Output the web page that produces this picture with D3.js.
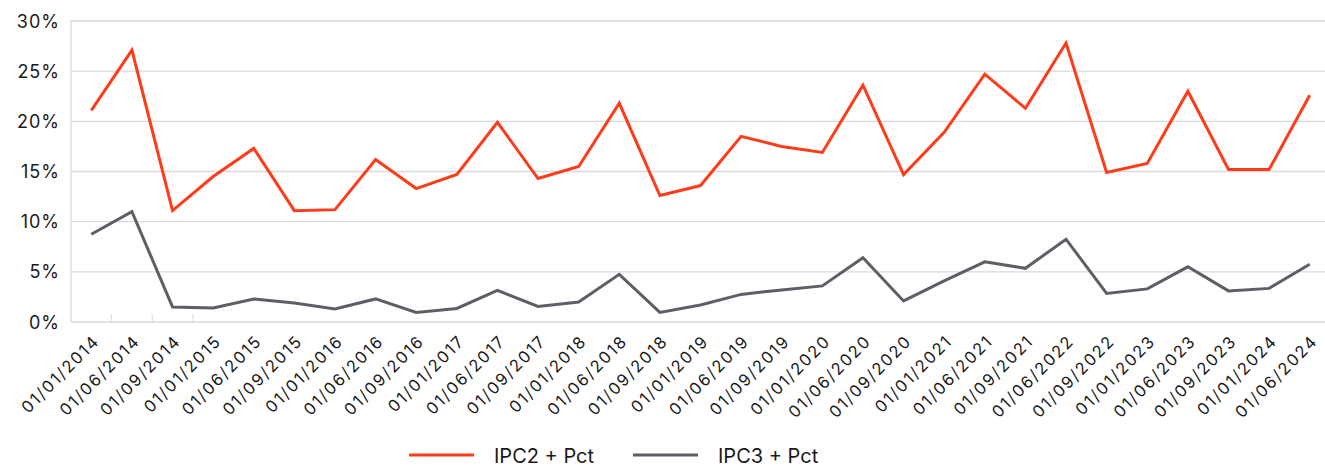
<!DOCTYPE html>
<html>
<head>
<meta charset="utf-8">
<script src="https://d3js.org/d3.v7.min.js"></script>
<title>IPC2 / IPC3 share</title>
<style>
body { margin: 0; background: #fff; }
svg { display: block; font-family: "Inter", "Liberation Sans", sans-serif; }
</style>
</head>
<body>
<svg width="1325" height="469"></svg>
<script>

// categories as printed on the x axis
let dates = [
  "01/01/2014", "01/06/2014", "01/09/2014",
  "01/01/2015", "01/06/2015", "01/09/2015",
  "01/01/2016", "01/06/2016", "01/09/2016",
  "01/01/2017", "01/06/2017", "01/09/2017",
  "01/01/2018", "01/06/2018", "01/09/2018",
  "01/01/2019", "01/06/2019", "01/09/2019",
  "01/01/2020", "01/06/2020", "01/09/2020",
  "01/01/2021", "01/06/2021", "01/09/2021",
  "01/06/2022", "01/09/2022",
  "01/01/2023", "01/06/2023", "01/09/2023",
  "01/01/2024", "01/06/2024"
];

// percent values
let ipc2 = [21.1, 27.1, 11.1, 14.5, 17.3, 11.1, 11.2, 16.2, 13.3,
  14.7, 19.9, 14.3, 15.5, 21.8, 12.6, 13.6, 18.5, 17.5, 16.9, 23.6,
  14.7, 18.9, 24.7, 21.3, 27.8, 14.9, 15.8, 23.0, 15.2, 15.2, 22.6];

let ipc3 = [8.75, 11.0, 1.5, 1.4, 2.3, 1.9, 1.3, 2.3, 0.95,
  1.35, 3.15, 1.55, 2.0, 4.75, 0.95, 1.7, 2.75, 3.2, 3.6, 6.4,
  2.1, 4.1, 6.0, 5.35, 8.25, 2.85, 3.3, 5.5, 3.1, 3.35, 5.75];

let yTicks = [0, 5, 10, 15, 20, 25, 30];

let seriesNames = ["IPC2 + Pct", "IPC3 + Pct"];
let seriesColors = ["#ff3c1a", "#5e5f66"];

let svg = d3.select("svg");

let plotLeft = 71, plotRight = 1330, plotTop = 21, plotBottom = 322;

let x = d3.scaleBand().domain(dates).range([plotLeft, plotRight]);
let y = d3.scaleLinear().domain([0, 30]).range([plotBottom, plotTop]);

// gridlines
svg.append("g").selectAll("line")
  .data(yTicks)
  .enter().append("line")
    .attr("x1", plotLeft)
    .attr("x2", plotRight)
    .attr("y1", d => y(d))
    .attr("y2", d => y(d))
    .attr("stroke", "#d9d9d9")
    .attr("stroke-width", 1.3);

// left axis line
svg.append("line")
  .attr("x1", plotLeft).attr("x2", plotLeft)
  .attr("y1", y(30)).attr("y2", y(0))
  .attr("stroke", "#d9d9d9")
  .attr("stroke-width", 1.3);

// y labels
svg.append("g").selectAll("text")
  .data(yTicks)
  .enter().append("text")
    .attr("x", 60)
    .attr("y", d => y(d) + 6.5)
    .attr("text-anchor", "end")
    .attr("font-size", 18)
    .attr("letter-spacing", 1)
    .attr("fill", "#1a1a1a")
    .text(d => d + "%");

// the few category tick marks that are visible
svg.append("g").selectAll("line")
  .data(dates.slice(1, 4))
  .enter().append("line")
    .attr("x1", d => x(d))
    .attr("x2", d => x(d))
    .attr("y1", plotBottom)
    .attr("y2", plotBottom - 8)
    .attr("stroke", "#d9d9d9")
    .attr("stroke-width", 1);

// x labels, rotated
svg.append("g").selectAll("text")
  .data(dates)
  .enter().append("text")
    .attr("transform", d => "translate(" + (x(d) + x.bandwidth() / 2 + 1) + "," + (plotBottom + 12) + ") rotate(-45)")
    .attr("text-anchor", "end")
    .attr("dy", "0.7em")
    .attr("font-size", 16.5)
    .attr("letter-spacing", 1.8)
    .attr("fill", "#1a1a1a")
    .text(d => d);

// lines
let line = d3.line()
  .x((d, i) => x(dates[i]) + x.bandwidth() / 2)
  .y(d => y(d));

[ipc2, ipc3].forEach(function(values, k) {
  svg.append("path")
    .datum(values)
    .attr("fill", "none")
    .attr("stroke", seriesColors[k])
    .attr("stroke-width", 3)
    .attr("stroke-linejoin", "miter")
    .attr("d", line);
});

// legend
let legendX = [409, 633];
seriesNames.forEach(function(name, k) {
  svg.append("line")
    .attr("x1", legendX[k]).attr("x2", legendX[k] + 65)
    .attr("y1", 455).attr("y2", 455)
    .attr("stroke", seriesColors[k])
    .attr("stroke-width", 3);
  svg.append("text")
    .attr("x", legendX[k] + 85)
    .attr("y", 462.5)
    .attr("font-size", 20)
    .attr("fill", "#1a1a1a")
    .text(name);
});

</script>
</body>
</html>
